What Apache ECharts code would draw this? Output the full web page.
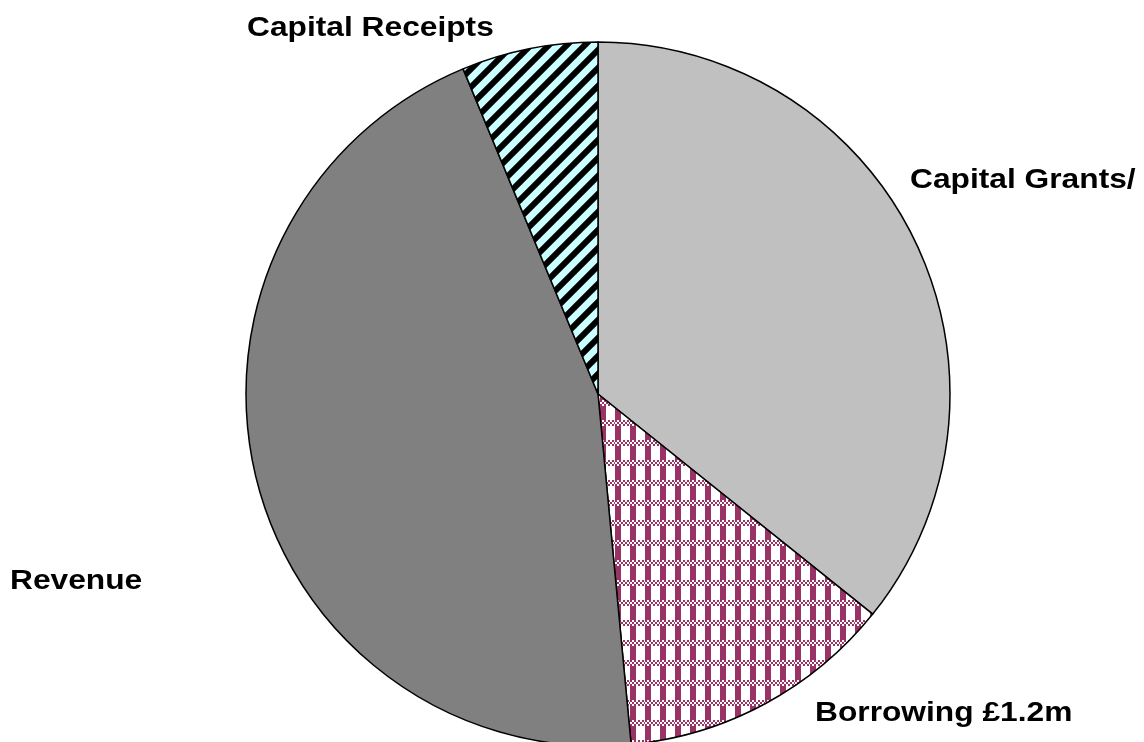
<!DOCTYPE html>
<html>
<head>
<meta charset="utf-8">
<script src="https://cdn.jsdelivr.net/npm/echarts@6/dist/echarts.min.js"></script>
<style>
html,body{margin:0;padding:0;background:#fff;}
#chart{width:1144px;height:742px;}
</style>
</head>
<body>
<div id="chart"></div>
<script>
// Data
const categories = ['Capital Grants/', 'Borrowing £1.2m', 'Revenue', 'Capital Receipts'];
const values = [35.75, 12.75, 45.24, 6.26];

// Fill styles
function stripeTile() {
  const s = 18;
  const c = document.createElement('canvas');
  c.width = s; c.height = s;
  const ctx = c.getContext('2d');
  ctx.fillStyle = '#CCFFFF';
  ctx.fillRect(0, 0, s, s);
  ctx.strokeStyle = '#000';
  ctx.lineWidth = 6;
  [0, s, 2 * s].forEach(function (o) {
    ctx.beginPath();
    ctx.moveTo(-s, o + s);
    ctx.lineTo(o + s, -s);
    ctx.stroke();
  });
  return c;
}
function checkTile() {
  const w = 15, h = 20, col = '#993366';
  const c = document.createElement('canvas');
  c.width = w; c.height = h;
  const ctx = c.getContext('2d');
  ctx.fillStyle = '#fff';
  ctx.fillRect(0, 0, w, h);
  ctx.fillStyle = col;
  ctx.fillRect(0, 0, 6, h);
  for (let i = 0; i < w; i += 2) {
    for (let j = 0; j < 6; j += 2) {
      ctx.fillStyle = ((i / 2 + j / 2) % 2 === 0) ? col : '#fff';
      ctx.fillRect(i, j, 2, 2);
    }
  }
  return c;
}

const fills = [
  '#C0C0C0',
  { image: checkTile(), repeat: 'repeat' },
  '#808080',
  { image: stripeTile(), repeat: 'repeat' }
];

// Label placement (left x, vertical centre of caps)
const labelPos = [[910, 181], [815, 714], [10, 582], [247, 29]];

const chart = echarts.init(document.getElementById('chart'), null, { renderer: 'canvas' });
chart.setOption({
  animation: false,
  backgroundColor: '#fff',
  series: [{
    type: 'pie',
    center: [598, 394],
    radius: [0, 352],
    startAngle: 90,
    clockwise: true,
    label: { show: false },
    labelLine: { show: false },
    emphasis: { disabled: true },
    itemStyle: { borderColor: '#000', borderWidth: 1.5 },
    data: categories.map(function (n, i) {
      return { name: n, value: values[i], itemStyle: { color: fills[i] } };
    })
  }],
  graphic: categories.map(function (n, i) {
    return {
      type: 'text',
      x: labelPos[i][0],
      y: labelPos[i][1],
      scaleX: 1.175,
      style: {
        text: n,
        x: 0, y: 0,
        fill: '#000',
        font: 'bold 27px "Liberation Sans", Arial, sans-serif',
        textAlign: 'left',
        textVerticalAlign: 'middle'
      }
    };
  })
});
</script>
</body>
</html>
